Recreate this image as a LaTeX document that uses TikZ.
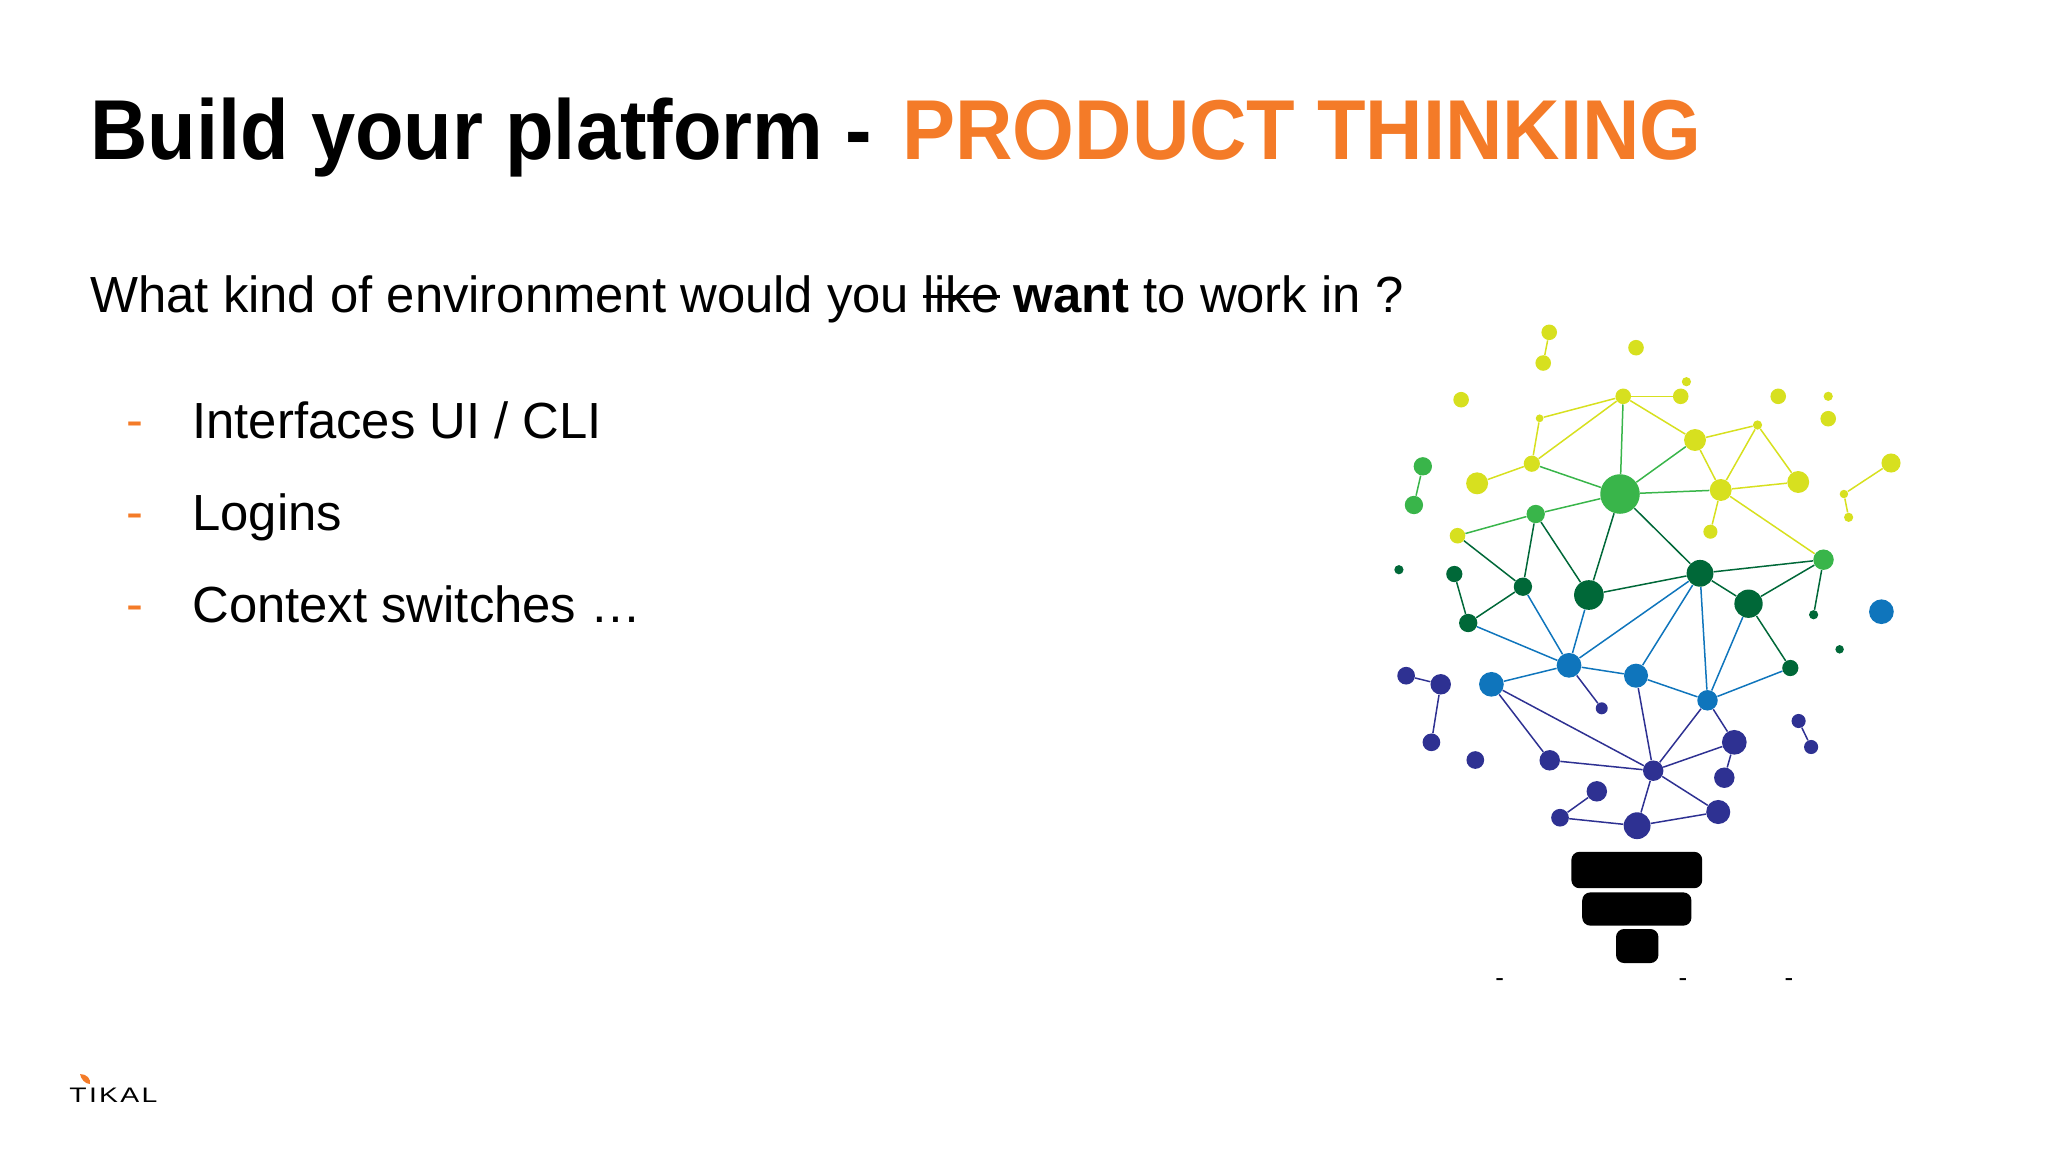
\documentclass[tikz,border=0pt]{standalone}
\usepackage{fontspec}
\setmainfont{Liberation Sans}
\newfontfamily\titlefont[FakeStretch=0.935]{Liberation Sans}
\newfontfamily\logofont[FakeStretch=1.35,LetterSpace=11]{Liberation Sans}
\definecolor{bulbyellow}{HTML}{D7E01F}
\definecolor{bulbgreen}{HTML}{39B54A}
\definecolor{bulbdark}{HTML}{006838}
\definecolor{bulbblue}{HTML}{0F75BC}
\definecolor{bulbpurple}{HTML}{2E3192}
\definecolor{tikalorange}{HTML}{F47B28}
\newsavebox{\strikebox}
\newcommand{\struck}[1]{\sbox{\strikebox}{#1}\rlap{\usebox{\strikebox}}\rule[0.27em]{\wd\strikebox}{0.07em}}
\tikzset{
	ydot/.style={circle, fill=bulbyellow, inner sep=0pt, minimum size=#1*0.53pt},
	gdot/.style={circle, fill=bulbgreen, inner sep=0pt, minimum size=#1*0.53pt},
	ddot/.style={circle, fill=bulbdark, inner sep=0pt, minimum size=#1*0.53pt},
	bdot/.style={circle, fill=bulbblue, inner sep=0pt, minimum size=#1*0.53pt},
	pdot/.style={circle, fill=bulbpurple, inner sep=0pt, minimum size=#1*0.53pt},
	yline/.style={line width=0.75pt, draw=bulbyellow},
	gline/.style={line width=0.75pt, draw=bulbgreen},
	dline/.style={line width=0.75pt, draw=bulbdark},
	bline/.style={line width=0.75pt, draw=bulbblue},
	pline/.style={line width=0.75pt, draw=bulbpurple},
	socket/.style={fill=black, rounded corners=4pt, inner sep=0pt},
	slide/.style={anchor=base west, inner sep=0pt, font=\fontsize{25.4}{30}\selectfont},
	headline/.style={anchor=base west, inner sep=0pt, font=\fontsize{42.5}{50}\titlefont\bfseries},
	tick/.style={anchor=base, inner sep=0pt, font=\fontsize{13}{14}\selectfont},
}
\begin{document}
\begin{tikzpicture}[x=0.5pt, y=-0.5pt]
	\useasboundingbox (0,0) rectangle (2048,1152);

	% text
	\node[headline] (title) at (90,159) {Build your platform -};
	\node[headline, text=tikalorange] (titleorange) at (902,159) {PRODUCT THINKING};
	\node[slide] (question) at (90,312) {What kind of environment would you \struck{like} \textbf{want} to work in ?};
	\node[slide, text=tikalorange] (dash1) at (126,437) {-};
	\node[slide] (item1) at (192,438) {Interfaces UI / CLI};
	\node[slide, text=tikalorange] (dash2) at (126,529) {-};
	\node[slide] (item2) at (192,530) {Logins};
	\node[slide, text=tikalorange] (dash3) at (126,621) {-};
	\node[slide] (item3) at (192,622) {Context switches \dots};

	% logo
	\node[anchor=base west, inner sep=0pt, font=\fontsize{10.5}{12}\logofont] (logo) at (69,1102) {TIKAL};
	\fill[tikalorange] (80,1074) .. controls (87,1074) and (91,1079) .. (90,1084) .. controls (85,1084) and (81,1079) .. (80,1074);

	% yellow part
	\node[ydot=14.7] (a1) at (1549.2,332.3) {};
	\node[ydot=14.7] (a2) at (1543.2,363) {};
	\node[ydot=14.7] (a3) at (1636,347.7) {};
	\node[ydot=8.7] (a4) at (1686.4,381.7) {};
	\node[ydot=14.7] (a5) at (1461.1,399.7) {};
	\node[ydot=14.7] (a6) at (1778.2,396.3) {};
	\node[ydot=8.7] (a7) at (1828.2,396.3) {};
	\node[ydot=14.7] (a8) at (1828.2,418.7) {};
	\node[ydot=14.7] (top) at (1623.2,396.3) {};
	\node[ydot=14.7] (topright) at (1680.7,396.3) {};
	\node[ydot=7.3] (topleft) at (1539.6,418.3) {};
	\node[ydot=8.7] (peak) at (1757.5,425) {};
	\node[ydot=20.7] (n2) at (1695,440) {};
	\node[ydot=15.3] (n3) at (1531.8,463.7) {};
	\node[ydot=20.7] (n4) at (1477.1,483.3) {};
	\node[ydot=20.7] (n5) at (1720.7,490) {};
	\node[ydot=20.7] (n6) at (1798.2,482) {};
	\node[ydot=18] (r1) at (1891,463) {};
	\node[ydot=8] (r2) at (1843.9,494) {};
	\node[ydot=8.7] (r3) at (1848.6,517.3) {};
	\node[ydot=14.7] (y1) at (1457.5,535.7) {};
	\node[ydot=13.3] (y2) at (1710.4,531.7) {};

	% green part
	\node[gdot=37.3] (big) at (1620,494) {};
	\node[gdot=17.3] (g1) at (1422.8,466.3) {};
	\node[gdot=17.3] (g2) at (1413.9,505) {};
	\node[gdot=17.3] (g3) at (1535.7,514) {};
	\node[gdot=19.3] (g4) at (1823.5,559.7) {};

	% dark part
	\node[ddot=8.7] (d1) at (1398.9,569.7) {};
	\node[ddot=15.3] (d2) at (1454.3,574) {};
	\node[ddot=17.3] (d3) at (1522.9,586.7) {};
	\node[ddot=28] (d4) at (1588.9,595) {};
	\node[ddot=25.3] (d5) at (1700,573.3) {};
	\node[ddot=26.7] (d6) at (1748.5,603.7) {};
	\node[ddot=17.3] (d7) at (1468.2,623) {};
	\node[ddot=8.7] (d8) at (1813.6,614.7) {};
	\node[ddot=8] (d9) at (1839.6,649.3) {};
	\node[ddot=15.3] (d10) at (1790.3,668) {};

	% blue part
	\node[bdot=23.3] (lonely) at (1881.4,611.7) {};
	\node[bdot=23.3] (b1) at (1569,665.3) {};
	\node[bdot=22.7] (b2) at (1636,675.7) {};
	\node[bdot=23.3] (b3) at (1491.4,684.3) {};
	\node[bdot=19.3] (b4) at (1707.5,700.3) {};

	% purple part
	\node[pdot=16.7] (p1) at (1406.1,675.7) {};
	\node[pdot=19.3] (p2) at (1440.7,684.3) {};
	\node[pdot=11.3] (p3) at (1601.7,708.3) {};
	\node[pdot=16.7] (p4) at (1431.4,742.3) {};
	\node[pdot=16.7] (p5) at (1475.3,760) {};
	\node[pdot=19.3] (p6) at (1549.7,760.3) {};
	\node[pdot=13.3] (p7) at (1798.6,721) {};
	\node[pdot=13.3] (p8) at (1811.1,747) {};
	\node[pdot=23.3] (p9) at (1734.3,742.3) {};
	\node[pdot=19.3] (p10) at (1653.2,770.7) {};
	\node[pdot=19.3] (p11) at (1724.3,777.7) {};
	\node[pdot=19.3] (p12) at (1596.8,791.3) {};
	\node[pdot=16.7] (p13) at (1560,817.7) {};
	\node[pdot=25.3] (p14) at (1637.1,825.7) {};
	\node[pdot=22.7] (p15) at (1718.2,812) {};

	% connectors
	\draw[yline] (a1) -- (a2);
	\draw[yline] (top) -- (topright);
	\draw[yline] (top) -- (topleft) -- (n3) -- (top);
	\draw[yline] (top) -- (n2) -- (peak) -- (n5) -- (n2);
	\draw[yline] (peak) -- (n6) -- (n5);
	\draw[yline] (n3) -- (n4);
	\draw[yline] (n5) -- (y2);
	\draw[yline] (n5) -- (g4);
	\draw[yline] (r1) -- (r2) -- (r3);

	\draw[gline] (top) -- (big);
	\draw[gline] (n3) -- (big);
	\draw[gline] (n2) -- (big);
	\draw[gline] (n5) -- (big);
	\draw[gline] (big) -- (g3) -- (y1);
	\draw[gline] (g1) -- (g2);

	\draw[dline] (y1) -- (d3);
	\draw[dline] (g3) -- (d3);
	\draw[dline] (g3) -- (d4);
	\draw[dline] (big) -- (d4) -- (d5) -- (big);
	\draw[dline] (d5) -- (g4) -- (d6) -- (d5);
	\draw[dline] (g4) -- (d8);
	\draw[dline] (d2) -- (d7) -- (d3);
	\draw[dline] (d6) -- (d10);

	\draw[bline] (d7) -- (b1);
	\draw[bline] (d3) -- (b1);
	\draw[bline] (d4) -- (b1);
	\draw[bline] (d5) -- (b1);
	\draw[bline] (d5) -- (b2);
	\draw[bline] (d5) -- (b4);
	\draw[bline] (d6) -- (b4);
	\draw[bline] (b3) -- (b1) -- (b2) -- (b4) -- (d10);

	\draw[pline] (b1) -- (p3);
	\draw[pline] (b3) -- (p10);
	\draw[pline] (b3) -- (p6) -- (p10);
	\draw[pline] (b2) -- (p10);
	\draw[pline] (b4) -- (p10);
	\draw[pline] (b4) -- (p9) -- (p10);
	\draw[pline] (p9) -- (p11);
	\draw[pline] (p10) -- (p15) -- (p14) -- (p10);
	\draw[pline] (p14) -- (p13) -- (p12);
	\draw[pline] (p1) -- (p2) -- (p4);
	\draw[pline] (p7) -- (p8);

	% lamp base
	\node[socket, minimum width=65.4pt, minimum height=18.2pt] (base1) at (1636.8,870) {};
	\node[socket, minimum width=54.6pt, minimum height=16.6pt] (base2) at (1636.8,909) {};
	\node[socket, minimum width=21.2pt, minimum height=17pt] (base3) at (1637.2,946) {};

	% stray marks
	\node[tick] (mark1) at (1499.6,986) {-};
	\node[tick] (mark2) at (1682.9,986) {-};
	\node[tick] (mark3) at (1788.9,986) {-};
\end{tikzpicture}
\end{document}
